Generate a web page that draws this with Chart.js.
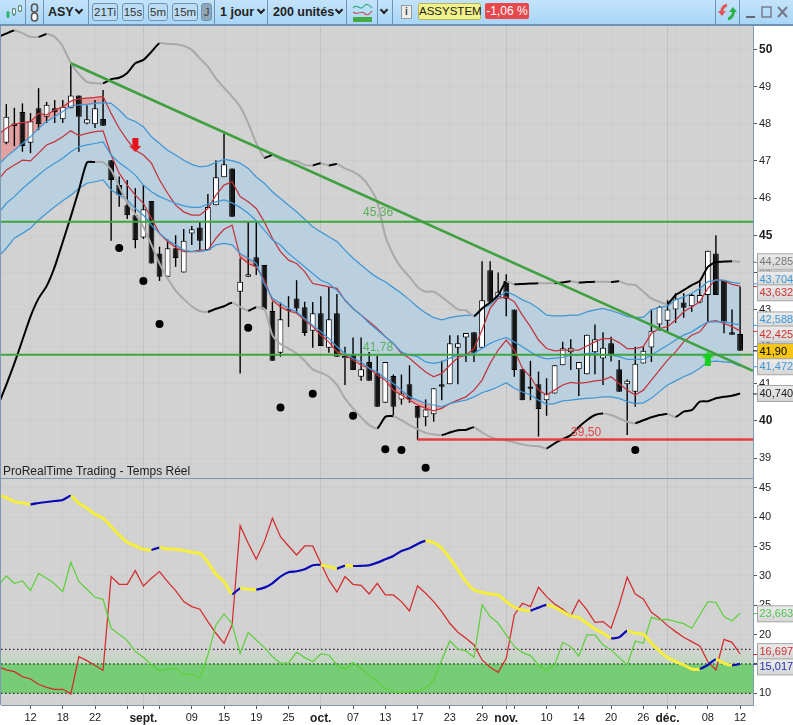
<!DOCTYPE html>
<html>
<head>
<meta charset="utf-8">
<title>ASSYSTEM</title>
<script src="https://cdn.jsdelivr.net/npm/chart.js@4/dist/chart.umd.min.js"></script>
<style>
  html, body { margin: 0; padding: 0; background: #fff; overflow: hidden; }
  body { width: 793px; height: 725px; position: relative; font-family: "Liberation Sans", sans-serif; }
  canvas { position: absolute; left: 0; }
  #priceChart { top: 26px; }
  #adxChart { top: 478px; }
  #bar { position: absolute; left: 0; top: 0; width: 793px; height: 24px; border-bottom: 2px solid #6f94b3; background: linear-gradient(#c4e3fa, #a8d6f6); }
  #bar span, #bar i, #bar svg { position: absolute; font-style: normal; }
  .sep { top: 0; width: 1px; height: 24px; background: #6f94b3; }
  .t { top: 5px; font-size: 12.5px; font-weight: bold; color: #222; }
  .btn { top: 3px; height: 16px; line-height: 16px; border: 1px solid #6f94b3; border-radius: 3px; text-align: center; font-size: 11.5px; color: #333; background: #bcdcf4; }
  #bar .chev { top: 7px; width: 4px; height: 4px; border-right: 2px solid #222; border-bottom: 2px solid #222; transform: rotate(45deg); }
  #sepLine { position: absolute; left: 0; top: 478px; width: 753px; height: 1px; background: #7d9ab5; }
  #leftLine { position: absolute; left: 0; top: 26px; width: 1px; height: 679px; background: #7d9ab5; }
</style>
</head>
<body>
<div id="bar">
  <svg style="left:5px;top:4px" width="18" height="16"><path d="M3 7v7M9 4v8M15 1v7" stroke="#264" stroke-width="1"/><rect x="1.5" y="8" width="3" height="5" fill="#2b6"/><rect x="7.5" y="5" width="3" height="5" fill="#fff" stroke="#264" stroke-width=".7"/><rect x="13.5" y="2" width="3" height="5" fill="#fff" stroke="#264" stroke-width=".7"/></svg>
  <i class="sep" style="left:25px"></i>
  <svg style="left:29px;top:3px" width="11" height="19"><rect x="2.5" y="1" width="6" height="8" rx="3" fill="none" stroke="#555" stroke-width="1.6"/><rect x="2.5" y="10" width="6" height="8" rx="3" fill="#fff" stroke="#555" stroke-width="1.6"/></svg>
  <i class="sep" style="left:43px"></i>
  <span class="t" style="left:48px">ASY</span><i class="chev" style="left:76px"></i>
  <i class="sep" style="left:88px"></i>
  <span class="btn" style="left:92px;width:24px">21Ti</span>
  <span class="btn" style="left:122px;width:20px">15s</span>
  <span class="btn" style="left:148px;width:18px">5m</span>
  <span class="btn" style="left:172px;width:24px">15m</span>
  <span class="btn" style="left:201px;width:9px;background:#8fa6b8;color:#444">J</span>
  <i class="sep" style="left:214px"></i>
  <span class="t" style="left:220px">1 jour</span><i class="chev" style="left:258px"></i>
  <i class="sep" style="left:267px"></i>
  <span class="t" style="left:273px">200 unités</span><i class="chev" style="left:336px"></i>
  <i class="sep" style="left:346px"></i>
  <svg style="left:352px;top:2px" width="21" height="21"><path d="M1 6C5 1 8 9 11 5S17 2 20 6" fill="none" stroke="#3a7" stroke-width="1.2"/><path d="M1 10C5 14 9 8 12 11S17 13 20 9" fill="none" stroke="#c55" stroke-width="1.2"/><rect x="1" y="15" width="19" height="5" fill="#4a4"/></svg>
  <i class="sep" style="left:377px"></i>
  <i class="chev" style="left:381px"></i>
  <i class="sep" style="left:392px"></i>
  <span style="left:401px;top:5px;width:9px;height:12px;line-height:12px;background:#eee;border:1px solid #999;text-align:center;font-size:10px;font-weight:bold;color:#445">i</span>
  <span style="left:418px;top:3px;width:61px;height:15px;line-height:15px;background:#f2f28a;border:1px solid #b5b560;border-radius:2px;text-align:center;font-size:11.5px;color:#222">ASSYSTEM</span>
  <span style="left:485px;top:3px;width:44px;height:16px;line-height:16px;background:#e8474c;border-radius:2px;text-align:center;font-size:12px;color:#fff">-1,06 %</span>
  <i class="sep" style="left:715px"></i>
  <svg style="left:718px;top:3px" width="20" height="18"><path d="M9 2A7 7 0 0 0 4 11" fill="none" stroke="#e25555" stroke-width="3"/><path d="M0 8l4 5 4-5z" fill="#e25555"/><path d="M10 16a7 7 0 0 0 5-9" fill="none" stroke="#2bb04a" stroke-width="3"/><path d="M11 9l4-5 4 5z" fill="#2bb04a"/></svg>
  <i class="sep" style="left:739px"></i>
  <svg style="left:745px;top:5px" width="46" height="14"><path d="M1 12h9" stroke="#667" stroke-width="2"/><rect x="17" y="2" width="9" height="10" fill="none" stroke="#778" stroke-width="1.4"/><path d="M33 2l9 10M42 2l-9 10" stroke="#778" stroke-width="2"/></svg>
</div>
<canvas id="priceChart" width="793" height="452"></canvas>
<canvas id="adxChart" width="793" height="247"></canvas>
<div id="sepLine"></div>
<div id="leftLine"></div>

<script>
// candles, bar 1 to 92 (bar n sits at x index n)
const opens = [47.49,48.01,48.32,47.49,48.42,48.19,48.42,48.12,48.42,48.76,
  48.01,47.99,48.13,47.02,46.35,45.81,45.54,44.94,45.92,44.51,
  43.88,44.65,44.00,45.05,45.21,44.60,45.81,46.56,46.80,43.48,
  43.88,44.41,44.20,42.96,41.84,43.01,43.30,43.06,42.43,42.90,
  41.97,42.90,41.69,41.77,41.19,41.59,41.28,40.49,41.21,40.58,
  40.99,40.40,40.10,40.18,40.99,40.99,41.97,42.25,42.39,41.97,
  44.06,43.34,43.77,43.00,41.39,40.93,40.99,40.56,40.74,41.50,
  41.85,41.39,41.26,41.85,41.68,42.09,41.39,40.99,40.79,41.55,
  41.98,42.60,42.70,43.00,43.19,43.09,43.19,43.39,44.51,43.77,
  42.39,42.34];
const closes = [48.19,47.94,47.40,48.07,47.99,48.51,48.31,48.46,48.76,48.19,
  48.12,48.42,47.95,46.49,46.08,45.54,44.87,45.70,44.24,43.88,
  44.65,44.39,44.85,45.16,44.85,45.76,46.56,46.91,45.50,43.75,
  43.95,44.15,43.00,41.62,42.74,42.97,43.03,42.37,42.90,42.02,
  42.74,41.73,41.75,41.37,41.39,41.08,40.38,41.59,40.38,40.74,
  40.58,40.09,40.31,40.88,40.92,42.09,42.09,42.37,41.84,43.25,
  43.21,43.48,43.29,41.37,40.56,40.87,40.32,40.74,41.50,41.96,
  41.97,41.59,42.32,42.20,41.97,41.78,40.79,41.08,41.54,41.89,
  42.43,43.07,43.00,43.30,43.05,43.39,43.39,44.58,43.39,42.67,
  42.32,41.89];
const highs = [48.53,48.43,48.55,48.29,48.96,48.59,48.64,48.64,49.63,48.76,
  48.50,48.64,48.91,47.02,46.58,46.49,46.27,46.35,45.92,44.69,
  44.89,45.00,45.17,45.25,45.36,46.11,47.02,47.74,46.80,44.38,
  45.36,45.36,44.20,43.21,43.19,43.36,43.79,43.21,43.20,43.36,
  43.61,43.42,42.00,42.25,42.25,41.86,41.75,41.59,41.25,41.25,
  41.50,40.40,40.58,40.88,41.62,42.31,42.31,42.37,42.39,44.30,
  44.30,44.00,43.95,43.00,41.39,41.62,41.33,41.15,41.50,42.13,
  42.20,41.59,42.32,42.60,42.39,42.27,41.64,41.12,42.00,42.00,
  43.00,43.10,43.25,43.44,43.44,43.44,43.79,44.58,45.00,43.77,
  43.00,43.62];
const lows = [47.45,47.40,47.25,47.21,47.83,48.02,48.02,48.02,48.42,47.25,
  47.99,47.89,47.95,44.85,45.77,45.44,44.65,44.90,44.24,43.77,
  43.88,44.15,44.00,44.74,44.60,44.60,45.81,46.56,45.50,41.28,
  43.88,43.93,43.00,41.62,41.73,42.53,42.90,42.29,41.97,42.02,
  41.84,41.73,40.97,41.37,41.08,41.08,40.38,40.49,40.15,40.44,
  40.49,39.49,39.86,39.98,40.56,40.99,40.99,41.59,41.59,41.97,
  43.21,43.34,42.82,41.19,40.56,40.56,39.58,40.14,40.74,41.50,
  41.37,40.67,41.26,41.26,40.97,41.60,40.79,39.62,40.38,41.55,
  41.59,42.43,42.40,42.64,42.78,42.94,43.17,42.67,43.39,42.36,
  42.32,41.89];

// indicators, x index 0 to 92 (index 0 is the bar cut off by the left edge)
const bandUpper = [50.34,50.43,50.51,50.44,50.34,50.34,50.42,50.34,50.08,49.63,
  49.34,49.13,49.09,49.09,49.2,49.24,49.37,49.63,49.72,49.94,
  50.17,50.15,50.14,50.1,49.99,49.76,49.54,49.22,48.97,48.73,
  48.46,48.02,47.48,47.09,47.16,47.04,47.01,46.99,46.89,46.88,
  46.94,46.88,46.92,46.8,46.71,46.57,46.31,45.9,44.98,44.47,
  44.12,43.88,43.61,43.48,43.48,43.34,43.17,43.0,42.98,42.82,
  43.03,43.19,43.39,43.75,43.68,43.69,43.7,43.71,43.71,43.71,
  43.73,43.76,43.73,43.74,43.75,43.75,43.74,43.76,43.68,43.66,
  43.48,43.3,43.21,43.15,43.39,43.52,43.66,43.77,44.15,44.28,
  44.29,44.3,44.285];
const bandLower = [40.43,40.97,41.55,42.18,42.81,43.3,43.63,44.15,44.82,45.5,
  46.22,46.96,46.97,46.97,46.76,46.31,45.88,45.57,45.23,44.74,
  44.24,43.84,43.51,43.28,43.09,42.96,42.94,43.02,43.09,43.18,
  43.07,42.97,43.06,43.02,42.31,42.07,41.95,41.82,41.62,41.39,
  41.3,41.19,40.97,40.61,40.34,40.1,39.89,39.8,40.11,40.13,
  40.02,39.89,39.78,39.68,39.64,39.62,39.69,39.75,39.76,39.83,
  39.69,39.57,39.5,39.48,39.42,39.37,39.33,39.32,39.26,39.4,
  39.51,39.62,39.84,40.02,40.16,40.2,40.16,40.07,39.98,39.94,
  40.02,40.1,40.16,40.19,40.11,40.25,40.29,40.52,40.53,40.61,
  40.65,40.68,40.74];
const redHigh = [47.72,47.88,47.99,48.03,48.06,48.28,48.24,48.37,48.46,48.61,
  48.67,48.69,48.71,48.74,48.28,47.88,47.56,47.29,47.16,46.94,
  46.49,46.13,45.81,45.63,45.54,45.54,45.72,46.08,46.35,46.44,
  46.04,45.9,45.72,45.36,44.92,44.56,44.33,44.24,44.02,43.7,
  43.66,43.61,43.57,43.25,43.03,42.85,42.67,42.49,42.27,42.09,
  41.82,41.69,41.5,41.32,41.19,41.28,41.5,41.71,41.77,41.95,
  42.45,43.03,43.3,43.34,43.21,42.85,42.54,42.18,41.95,41.89,
  41.91,41.91,41.91,42.02,42.13,42.22,42.22,42.11,41.95,41.95,
  42.0,42.36,42.49,42.54,42.72,42.94,43.07,43.21,43.57,43.81,
  43.77,43.68,43.632];
const redLow = [46.49,46.76,46.89,47.02,47.0,47.21,47.43,47.52,47.65,47.81,
  47.68,47.74,47.79,47.81,47.16,46.67,46.35,46.08,45.86,45.45,
  45.05,44.83,44.67,44.56,44.56,44.6,44.6,44.92,45.16,45.27,
  44.42,44.24,44.15,43.79,43.25,43.07,42.96,42.9,42.72,42.54,
  42.31,42.13,41.86,41.77,41.64,41.5,41.42,41.24,41.1,40.83,
  40.7,40.56,40.43,40.34,40.27,40.34,40.47,40.56,40.65,40.83,
  41.1,41.55,41.91,42.18,41.91,41.42,41.19,40.83,40.7,40.83,
  40.97,41.04,41.01,41.04,41.08,41.1,41.19,41.01,40.83,40.7,
  40.83,41.1,41.37,41.64,41.86,42.13,42.31,42.4,42.67,42.7,
  42.63,42.54,42.425];
const blueTop = [46.89,47.11,47.29,47.47,47.65,47.88,48.06,48.19,48.33,48.48,
  48.51,48.52,48.55,48.57,48.55,48.37,48.15,48.06,47.92,47.65,
  47.47,47.29,47.16,47.02,46.91,46.84,46.87,46.96,47.04,47.01,
  46.94,46.8,46.57,46.4,46.17,45.99,45.81,45.63,45.43,45.23,
  45.09,44.96,44.83,44.6,44.38,44.2,44.02,43.86,43.75,43.59,
  43.44,43.26,43.07,42.91,42.78,42.72,42.78,42.82,42.84,42.85,
  43.03,43.12,43.34,43.48,43.39,43.26,43.17,43.03,42.85,42.83,
  42.83,42.85,42.85,42.94,42.99,43.03,42.97,42.9,42.81,42.79,
  42.79,42.99,43.06,43.09,43.26,43.34,43.44,43.57,43.75,43.79,
  43.79,43.73,43.704];
const blueMid = [45.59,45.86,46.04,46.26,46.44,46.62,46.8,46.94,47.07,47.25,
  47.38,47.43,47.47,47.51,47.16,46.95,46.8,46.62,46.35,46.17,
  46.04,45.95,45.86,45.79,45.75,45.75,45.84,45.9,45.95,45.87,
  45.75,45.59,45.39,45.14,44.87,44.74,44.51,44.33,44.15,43.97,
  43.79,43.7,43.52,43.26,43.03,42.85,42.63,42.45,42.27,42.09,
  41.86,41.77,41.73,41.59,41.55,41.59,41.69,41.77,41.77,41.82,
  41.95,42.09,42.18,42.25,42.13,42.0,41.86,41.73,41.67,41.69,
  41.71,41.77,41.77,41.82,41.82,41.77,41.77,41.73,41.66,41.66,
  41.66,41.77,41.91,42.04,42.18,42.31,42.4,42.54,42.67,42.67,
  42.67,42.63,42.588];
const blueLow = [44.42,44.65,44.92,45.05,45.19,45.41,45.59,45.77,45.93,46.08,
  46.26,46.4,46.44,46.49,46.22,46.08,45.95,45.72,45.54,45.27,
  45.05,44.87,44.74,44.6,44.56,44.56,44.6,44.74,44.78,44.74,
  44.51,44.38,44.24,43.69,43.3,43.17,43.03,42.94,42.76,42.58,
  42.4,42.22,42.0,41.82,41.69,41.59,41.42,41.32,41.15,41.01,
  40.83,40.65,40.56,40.47,40.43,40.38,40.47,40.52,40.56,40.65,
  40.76,40.83,40.92,41.03,40.88,40.78,40.7,40.56,40.45,40.47,
  40.54,40.56,40.59,40.61,40.62,40.65,40.65,40.61,40.52,40.47,
  40.49,40.61,40.79,40.97,41.08,41.19,41.28,41.42,41.59,41.61,
  41.59,41.57,41.472];

// lower pane
const adx = [43.81,43.35,42.67,42.44,42.22,42.44,42.61,42.78,42.95,43.64,
  42.39,41.53,40.51,39.83,38.41,36.99,35.74,35.11,34.55,34.43,
  34.83,34.6,34.55,34.32,34.03,33.86,32.33,30.28,29.03,26.93,
  27.9,27.73,27.67,28.01,28.75,29.89,30.63,30.8,31.14,31.82,
  31.88,31.59,31.25,31.76,31.7,31.73,31.82,32.27,32.84,33.41,
  34.26,34.72,35.45,35.97,35.68,34.72,33.01,31.02,29.03,27.61,
  27.22,26.93,26.76,25.63,24.66,24.2,24.09,24.6,25.06,24.66,
  23.92,23.18,22.9,21.93,20.97,20.23,19.38,19.55,20.63,20.23,
  20.06,18.52,17.22,16.08,15.4,14.83,14.15,14.15,14.83,15.8,
  15.11,14.77,15.017];
const diMinus = [14.55,13.98,13.69,12.84,12.44,11.53,11.02,10.68,10.68,9.89,
  16.25,15.57,14.72,13.92,29.89,28.58,28.58,30.91,28.3,29.6,
  30.74,29.03,27.5,25.63,24.77,24.32,22.22,20.23,18.52,21.65,
  38.58,35.57,32.84,35.85,39.83,36.7,35.11,33.58,35.11,35.11,
  32.16,29.32,27.27,29.89,28.58,28.41,26.93,28.75,26.76,26.76,
  25.63,24.03,28.3,27.05,25.63,23.92,21.93,20.4,19.38,18.24,
  15.68,14.43,13.58,15.97,23.35,25.34,24.77,28.07,26.48,25.23,
  24.32,23.18,25.91,24.2,22.1,22.22,21.08,25.06,29.77,26.93,
  26.08,23.81,22.78,21.53,20.51,19.55,18.81,18.07,15.4,13.98,
  19.2,18.69,16.697];
const diPlus = [28.3,30.0,28.75,29.15,27.5,30.45,29.6,28.64,27.33,32.33,
  29.03,27.73,26.36,26.02,21.08,20.06,18.98,17.1,16.14,14.83,
  13.86,14.09,14.26,13.13,13.3,12.56,16.53,21.65,23.52,21.82,
  16.82,20.34,19.09,17.78,16.25,15.11,15.22,16.99,16.08,15.4,
  16.7,16.53,14.83,14.15,15.22,14.26,13.13,11.99,10.85,10.28,
  10.17,10.28,10.39,10.85,12.27,15.68,18.92,17.55,17.22,16.14,
  25.06,23.07,21.93,19.94,17.95,16.93,16.42,14.83,13.86,14.83,
  18.69,17.95,16.36,19.94,19.94,18.24,17.39,16.08,14.83,18.92,
  18.52,22.95,22.5,22.61,22.22,21.87,21.08,23.35,25.63,25.52,
  23.07,22.33,23.663];

// axis labels
const tickIndex = [4,8,12,16,18,20,24,28,32,36,40,44,48,52,56,60,63,64,68,72,76,80,83,84,88,92];
const tickLabels = ['12','18','22','','sept.','','09','15','19','25','oct.','07','13','17','23','29','nov.','','10','14','20','26','déc.','','08','12'];
const monthLabels = ['sept.','oct.','nov.','déc.'];

// chart objects
const dotIndex = [15,18,20,31,35,39,44,48,50,53,79];
const dotValue = [44.66,43.77,42.61,42.51,40.36,40.73,40.14,39.24,39.22,38.74,39.22];
const trendIndex = [9,93.6];
const trendValue = [49.63,41.35];
const resistLevel = 45.36;
const supportLevel = 41.78;
const stopLevel = 39.5;
const stopStart = 52;
const zoneLevels = [17.5,15,10];
const redArrow = {x:17, y:47.43};
const greenArrow = {x:88, y:41.68};

const priceNotes = [
  {text:'45,36', x:47.1, y:45.6, color:'#5cae5c'},
  {text:'41,78', x:47.1, y:41.98, color:'#5cae5c'},
  {text:'39,50', x:72.9, y:39.69, color:'#e04545'}
];
// value is where the line ends, at is where the tag had to be put
const priceTags = [
  {text:'44,285', value:44.285, at:44.285, color:'#777'},
  {text:'43,704', value:43.704, at:43.82, color:'#3f97d6'},
  {text:'43,632', value:43.632, at:43.45, color:'#d03030'},
  {text:'42,588', value:42.588, at:42.72, color:'#3f97d6'},
  {text:'42,425', value:42.425, at:42.34, color:'#d03030'},
  {text:'41,90', value:41.9, at:41.87, color:'#000', bg:'#f5c518'},
  {text:'41,472', value:41.472, at:41.46, color:'#3f97d6'},
  {text:'40,740', value:40.74, at:40.74, color:'#222'}
];
const adxTags = [
  {text:'23,663', value:23.663, at:23.55, color:'#55c055'},
  {text:'16,697', value:16.697, at:17.1, color:'#d03030'},
  {text:'15,017', value:15.017, at:14.5, color:'#2230b0'}
];

const axisBlue = '#7d9ab5';
const xMin = 0.342, xMax = 93.6;

const points = series => series.map((y, i) => ({x:i, y}));
const hline = (v, from) => [{x:from === undefined ? xMin : from, y:v}, {x:xMax, y:v}];

// rising parts get the strong colour
const risingLine = (series, up, down, w) => ({
  type:'line', data:points(series), borderWidth:w, borderColor:down, pointRadius:0, tension:0.2, order:4,
  segment:{borderColor:c => c.p1.parsed.y > c.p0.parsed.y ? up : down}
});
const plainLine = (series, color, order) => ({
  type:'line', data:points(series), borderColor:color, borderWidth:1.25, pointRadius:0, tension:0, order:order || 5
});

function arrowImage(color, up) {
  const c = document.createElement('canvas');
  c.width = 12; c.height = 14;
  const g = c.getContext('2d');
  if (!up) { g.translate(0, 14); g.scale(1, -1); }
  g.fillStyle = color;
  g.beginPath();
  g.moveTo(6,0); g.lineTo(12,6); g.lineTo(9,6); g.lineTo(9,14); g.lineTo(3,14); g.lineTo(3,6); g.lineTo(0,6);
  g.closePath(); g.fill();
  return c;
}

const paneBack = {
  id:'paneBack',
  beforeDraw(chart) {
    const a = chart.chartArea, g = chart.ctx;
    g.save();
    g.fillStyle = '#d2d2d2';
    g.fillRect(a.left, a.top, a.right - a.left, a.bottom - a.top);
    g.restore();
  }
};

// notes, value tags and caption on top of the pane
const paneText = (notes, tags, caption) => ({
  id:'paneText',
  afterDraw(chart) {
    const g = chart.ctx, x = chart.scales.x, y = chart.scales.y, a = chart.chartArea;
    g.save();
    g.textBaseline = 'middle';
    notes.forEach(n => {
      g.font = '12px "Liberation Sans"';
      g.fillStyle = n.color;
      g.textAlign = 'center';
      g.fillText(n.text, x.getPixelForValue(n.x), y.getPixelForValue(n.y));
    });
    tags.forEach(t => {
      const real = y.getPixelForValue(t.value), at = y.getPixelForValue(t.at);
      g.strokeStyle = t.color;
      g.lineWidth = 1;
      g.beginPath(); g.moveTo(a.right, real + .5); g.lineTo(a.right + 5, real + .5); g.stroke();
      const grad = g.createLinearGradient(0, at - 8, 0, at + 8);
      grad.addColorStop(0, t.bg || '#ececec');
      grad.addColorStop(1, t.bg || '#d6d6d6');
      g.fillStyle = grad;
      g.fillRect(757.5, at - 8, 40, 16);
      g.strokeStyle = '#a5a5a5';
      g.strokeRect(757.5, at - 8, 40, 16);
      g.font = '11px "Liberation Sans"';
      g.fillStyle = t.color;
      g.textAlign = 'left';
      g.fillText(t.text, 759.5, at + .5);
    });
    if (caption) {
      g.font = '12px "Liberation Sans"';
      g.fillStyle = '#222';
      g.textAlign = 'left';
      g.fillText(caption, 3, a.bottom - 6);
    }
    g.restore();
  }
});

function scales(yMin, yMax, yStep, boldTick, showX) {
  return {
    x: {
      type:'linear', min:xMin, max:xMax, offset:false,
      afterBuildTicks: s => { s.ticks = tickIndex.map(v => ({value:v})); },
      afterFit: s => { s.height = showX ? 20 : 0; s.paddingLeft = 0; s.paddingRight = 0; },
      border:{color:axisBlue},
      grid:{
        offset:false,
        color: c => {
          const lab = c.tick ? tickLabels[tickIndex.indexOf(c.tick.value)] : '';
          return monthLabels.includes(lab) ? '#c2c2c2' : 'rgba(0,0,0,0.02)';
        },
        tickColor:'#555', tickLength:showX ? 4 : 0, drawTicks:showX
      },
      ticks:{
        display:showX, autoSkip:false, maxRotation:0, padding:2, color:'#222',
        callback: v => tickLabels[tickIndex.indexOf(v)],
        font: c => {
          const lab = c.tick ? tickLabels[tickIndex.indexOf(c.tick.value)] : '';
          return monthLabels.includes(lab)
            ? {family:'Liberation Sans', size:12, weight:'bold'}
            : {family:'Liberation Sans', size:11};
        }
      }
    },
    y: {
      position:'right', min:yMin, max:yMax,
      afterFit: s => { s.width = 40; s.paddingTop = 0; s.paddingBottom = 0; },
      border:{color:axisBlue},
      grid:{color:'rgba(0,0,0,0.025)', tickColor:'#555', tickLength:4},
      ticks:{
        stepSize:yStep, includeBounds:false, crossAlign:'near', padding:2, color:'#222',
        callback: v => String(v),
        font: c => (boldTick && c.tick && c.tick.value % 5 === 0)
          ? {family:'Liberation Sans', size:12, weight:'bold'}
          : {family:'Liberation Sans', size:11}
      }
    }
  };
}

const barColors = opens.map((o, i) => closes[i] >= o ? '#fff' : '#151515');
const barIndex = i => i + 1;

new Chart(document.getElementById('priceChart'), {
  type:'bar',
  plugins:[paneBack, paneText(priceNotes, priceTags, 'ProRealTime Trading - Temps Réel')],
  data:{datasets:[
    // fills, kept as their own datasets so that they stay under the candles (indexes 0 to 2)
    {type:'line', data:points(blueTop), borderWidth:0, pointRadius:0, order:30, fill:{target:6}, backgroundColor:'#bbd0de'},
    {type:'line', data:points(redHigh), borderWidth:0, pointRadius:0, order:29, fill:{target:4, above:'#e3a0a0', below:'rgba(0,0,0,0)'}},
    {type:'line', data:points(redLow), borderWidth:0, pointRadius:0, order:29, fill:{target:6, above:'rgba(0,0,0,0)', below:'#e3a0a0'}},
    // candles (wicks, then bodies)
    {type:'bar', grouped:false, order:21, maxBarThickness:1.4, backgroundColor:'#000',
      data:highs.map((h, i) => ({x:barIndex(i), y:[lows[i], h]}))},
    // lines (index 4 and 6 are the fill targets above)
    plainLine(blueTop, '#3f97d6'),
    plainLine(blueMid, '#3f97d6'),
    plainLine(blueLow, '#3f97d6'),
    plainLine(redHigh, '#c4343c'),
    plainLine(redLow, '#c4343c'),
    {type:'bar', grouped:false, order:20, maxBarThickness:7.5, backgroundColor:barColors,
      borderColor:'#000', borderWidth:1, borderSkipped:false,
      data:opens.map((o, i) => ({x:barIndex(i), y:[o, closes[i]]}))},
    risingLine(bandUpper, '#000', '#a9a9a9', 2),
    risingLine(bandLower, '#000', '#a9a9a9', 2),
    {type:'line', data:dotIndex.map((x, i) => ({x, y:dotValue[i]})), showLine:false, pointRadius:4, pointBackgroundColor:'#000', pointBorderWidth:0, order:3},
    {type:'line', data:trendIndex.map((x, i) => ({x, y:trendValue[i]})), borderColor:'#3fa03f', borderWidth:2.5, pointRadius:0, order:2},
    {type:'line', data:hline(resistLevel), borderColor:'#3fa63f', borderWidth:2, pointRadius:0, order:2},
    {type:'line', data:hline(supportLevel), borderColor:'#3fa63f', borderWidth:2, pointRadius:0, order:2},
    {type:'line', data:hline(stopLevel, stopStart), borderColor:'#e63c3c', borderWidth:2.5, pointRadius:0, order:2},
    {type:'line', data:[redArrow], showLine:false, pointStyle:arrowImage('#e8141c', false), order:1},
    {type:'line', data:[greenArrow], showLine:false, pointStyle:arrowImage('#18d020', true), order:1}
  ]},
  options:{
    responsive:false, animation:false, devicePixelRatio:1,
    layout:{autoPadding:false, padding:{left:1, top:0, right:0, bottom:0}},
    scales:scales(38.465, 50.633, 1, true, false),
    plugins:{legend:{display:false}, tooltip:{enabled:false}}
  }
});

const zoneFade = c => {
  const {ctx, scales} = c.chart;
  const top = scales.y ? scales.y.getPixelForValue(zoneLevels[0]) : NaN;
  const bottom = scales.y ? scales.y.getPixelForValue(zoneLevels[1]) : NaN;
  if (!Number.isFinite(top) || !Number.isFinite(bottom)) return '#cfd8cf';
  const g = ctx.createLinearGradient(0, top, 0, bottom);
  g.addColorStop(0, '#d2d2d2');
  g.addColorStop(1, '#bfd8bf');
  return g;
};
const dotted = v => ({type:'line', data:hline(v), borderColor:'#000', borderWidth:1, borderDash:[1.5,2.5], pointRadius:0, order:9});

new Chart(document.getElementById('adxChart'), {
  type:'line',
  plugins:[paneBack, paneText([], adxTags, '')],
  data:{datasets:[
    {data:hline(zoneLevels[0]), borderWidth:0, pointRadius:0, order:12, fill:{target:1}, backgroundColor:zoneFade},
    {data:hline(zoneLevels[1]), borderWidth:0, pointRadius:0, order:11, fill:{target:2}, backgroundColor:'#76cd76'},
    {data:hline(zoneLevels[2]), borderWidth:0, pointRadius:0, order:10},
    dotted(zoneLevels[0]), dotted(zoneLevels[1]), dotted(zoneLevels[2]),
    plainLine(diPlus, '#5fd03c'),
    plainLine(diMinus, '#d42c2c'),
    {data:points(adx), borderWidth:3, borderColor:'#f5ee3c', pointRadius:0, order:1, tension:0.2,
      segment:{
        borderColor:c => c.p1.parsed.y > c.p0.parsed.y ? '#0a0ab4' : '#f5ee3c',
        borderWidth:c => c.p1.parsed.y > c.p0.parsed.y ? 2.2 : 3
      }}
  ]},
  options:{
    responsive:false, animation:false, devicePixelRatio:1,
    layout:{autoPadding:false, padding:{left:1, top:0, right:0, bottom:0}},
    scales:scales(8.0, 46.7, 5, false, true),
    plugins:{legend:{display:false}, tooltip:{enabled:false}}
  }
});
</script>
</body>
</html>
